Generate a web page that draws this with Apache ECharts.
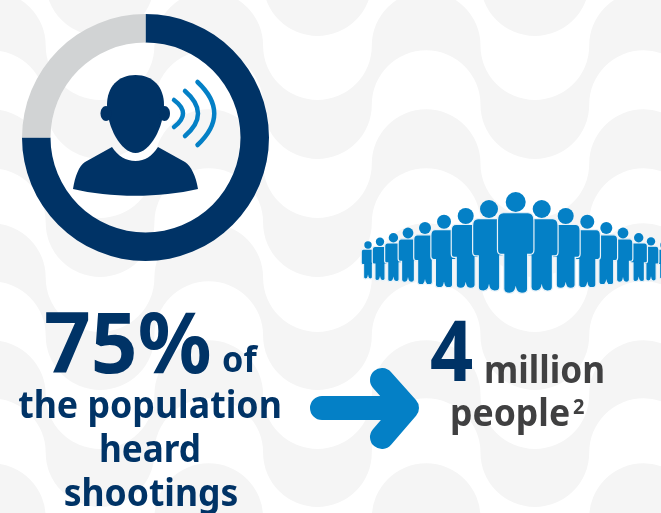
<!DOCTYPE html>
<html>
<head>
<meta charset="utf-8">
<style>html,body{margin:0;padding:0;background:#fff}#chart{width:661px;height:513px}</style>
<script src="https://cdn.jsdelivr.net/npm/echarts@6/dist/echarts.min.js"></script>
</head>
<body>
<div id="chart"></div>
<script>
// Share of the population, in percent
const shareCategories = ['heard shootings', 'did not hear shootings'];
const shareValues = [75, 25];
const headline = '75%';
const peopleCount = '4';

const NAVY = '#003366', BLUE = '#0480c6', RING_GREY = '#d1d3d4', INK = '#404041', WAVE = '#f5f5f5';
const FONT = '"Noto Sans"';

// Wavy backdrop: semicircle curves, filled between pairs of curves
const waveR = 54.35, waveStart = -63;
const waveBands = [[-23, 36], [100, 159], [218, 277], [332, 390], [449, 507], [572, 631]];
function waveBand(top, bottom) {
  const n = 4, step = 2 * waveR;
  const y1 = top - waveR, y2 = bottom - waveR;
  let d = 'M' + waveStart + ' ' + y1;
  for (let i = 1; i <= n * 2; i++) {
    d += ' A' + waveR + ' ' + waveR + ' 0 0 ' + (i % 2) + ' ' + (waveStart + i * step) + ' ' + y1;
  }
  d += ' L' + (waveStart + n * 2 * step) + ' ' + y2;
  for (let i = n * 2 - 1; i >= 0; i--) {
    d += ' A' + waveR + ' ' + waveR + ' 0 0 ' + (i % 2) + ' ' + (waveStart + i * step) + ' ' + y2;
  }
  return d + ' Z';
}

// One standing figure in the crowd: centre x, head top, total height
function figurePath(cx, top, h) {
  const X = v => (cx + v * h).toFixed(2), Y = v => (top + v * h).toFixed(2);
  return [
    'M', X(-0.12), Y(0.205),
    'L', X(0.12), Y(0.205),
    'Q', X(0.18), Y(0.205), X(0.18), Y(0.28),
    'L', X(0.18), Y(0.57),
    'Q', X(0.18), Y(0.615), X(0.145), Y(0.615),
    'L', X(0.118), Y(0.615),
    'L', X(0.118), Y(0.955),
    'Q', X(0.118), Y(1), X(0.062), Y(1),
    'Q', X(0.012), Y(1), X(0), Y(0.95),
    'Q', X(-0.012), Y(1), X(-0.062), Y(1),
    'Q', X(-0.118), Y(1), X(-0.118), Y(0.955),
    'L', X(-0.118), Y(0.615),
    'L', X(-0.145), Y(0.615),
    'Q', X(-0.18), Y(0.615), X(-0.18), Y(0.57),
    'L', X(-0.18), Y(0.28),
    'Q', X(-0.18), Y(0.205), X(-0.12), Y(0.205),
    'Z'
  ].join(' ');
}

// Crowd layout, outermost first so inner figures overlap their neighbours
const crowd = [
  [368, 245, 3.7, 279], [664, 245, 3.7, 279],
  [380, 241.7, 4.2, 280.6], [651, 241.4, 4.2, 281],
  [393.4, 237.7, 4.7, 281.6], [638.7, 237.7, 4.7, 281.6],
  [408, 233, 5.4, 282.3], [623, 233, 5.4, 282.3],
  [425, 228, 6, 284.7], [606.3, 228, 6, 284.7],
  [444, 221.7, 7, 287.7], [587.3, 221.7, 7, 287.7],
  [465.7, 216, 8, 288.3], [565.7, 216, 8, 288.3],
  [489, 209, 9, 291], [541.7, 209, 9, 291],
  [515.7, 202, 10, 293.3]
];

function pathEl(d, style) {
  return { type: 'path', silent: true, shape: { pathData: d }, style: style };
}

// Backdrop shapes
const backdrop = waveBands.map(b => pathEl(waveBand(b[0], b[1]), { fill: WAVE }));

// Foreground icons
const icons = [];

// Listener icon inside the ring
[
  'M107 105 C107 87 118 75 135.5 75 C153 75 164 87 164 105 C164 127 150 153 135.5 153 C121 153 107 127 107 105 Z',
  'M112 147 C118 156 126 161 135.5 161 C145 161 152 156 158 147 L185 162 C191 166 196 176 198 189 C160 198 110 198 73 189 C75 176 79 166 85 162 Z'
].forEach(d => icons.push(pathEl(d, { fill: NAVY })));
[[106, 113.5], [164.5, 113.5]].forEach(p => icons.push({
  type: 'ellipse', silent: true,
  shape: { cx: p[0], cy: p[1], rx: 5.5, ry: 7.5 }, style: { fill: NAVY }
}));
['M174 100 Q192 113.5 174 127', 'M185 91 Q211 113.5 185 136', 'M197.5 82 Q231 113.5 197.5 145'].forEach(d =>
  icons.push(pathEl(d, { fill: 'none', stroke: BLUE, lineWidth: 4.5, lineCap: 'round' })));

// Crowd
crowd.forEach(f => {
  const cx = f[0], headY = f[1], r = f[2], foot = f[3];
  const top = headY - r, h = foot - top;
  icons.push(pathEl(figurePath(cx, top, h), { fill: BLUE, stroke: '#e8f2f9', lineWidth: 1.2 }));
  icons.push({
    type: 'circle', silent: true,
    shape: { cx: cx, cy: headY, r: r }, style: { fill: BLUE }
  });
});

// Arrow
icons.push(pathEl('M322 408 L405 408 M382 380 L407 408 L382 437',
  { fill: 'none', stroke: BLUE, lineWidth: 24, lineCap: 'round', lineJoin: 'round' }));

// Text blocks: string, anchor x, centre y, size, colour, alignment, horizontal scale
const labels = [
  [headline, 44, 349, 84, NAVY, 'left', 0.975],
  ['of', 222, 362, 36, NAVY, 'left', 0.95],
  ['the population', 150, 407, 37, NAVY, 'center', 0.965],
  ['heard', 150, 451, 37, NAVY, 'center', 0.95],
  ['shootings', 151, 495, 37, NAVY, 'center', 0.96],
  [peopleCount, 430, 357, 84, NAVY, 'left', 0.9],
  ['million', 484, 372, 37, INK, 'left', 0.95],
  ['people', 450, 415, 37, INK, 'left', 0.96],
  ['2', 573, 408, 21, INK, 'left', 0.95]
];
const texts = labels.map(l => ({
  type: 'text', silent: true, z: 6,
  x: l[1], y: l[2], scaleX: l[6],
  style: {
    text: l[0], fill: l[4], font: 'bold ' + l[3] + 'px ' + FONT,
    textAlign: l[5], textVerticalAlign: 'middle'
  }
}));

function iconLayer(z, children) {
  return {
    type: 'custom', coordinateSystem: 'none', z: z, silent: true,
    data: [0],
    renderItem: () => ({ type: 'group', children: children })
  };
}

const chart = echarts.init(document.getElementById('chart'), null, { renderer: 'canvas' });
chart.setOption({
  animation: false,
  backgroundColor: '#ffffff',
  graphic: { elements: texts },
  series: [
    iconLayer(1, backdrop),
    {
      type: 'pie',
      z: 3,
      center: [145.5, 137.5],
      radius: [95, 123.5],
      startAngle: 90,
      clockwise: true,
      silent: true,
      label: { show: false },
      labelLine: { show: false },
      data: shareCategories.map((name, i) => ({
        name: name,
        value: shareValues[i],
        itemStyle: { color: i === 0 ? NAVY : RING_GREY }
      }))
    },
    iconLayer(5, icons)
  ]
});
</script>
</body>
</html>
